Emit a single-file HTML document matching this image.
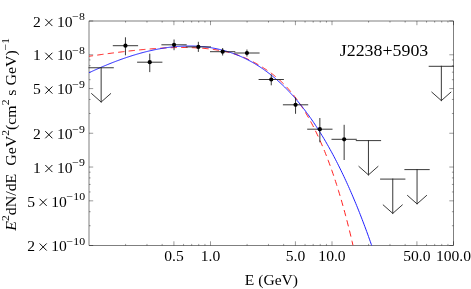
<!DOCTYPE html>
<html><head><meta charset="utf-8"><style>
html,body{margin:0;padding:0;background:#fff;}
body{width:471px;height:289px;overflow:hidden;font-family:"Liberation Serif",serif;}
svg{display:block}
.t{opacity:0.999}
.t text{font-family:"Liberation Serif",serif;white-space:pre}
</style></head><body>
<svg width="471" height="289" viewBox="0 0 471 289">
<rect width="471" height="289" fill="#fff"/>
<rect x="89.00" y="21.00" width="364.50" height="224.50" fill="none" stroke="#000" stroke-width="0.5"/>
<path d="M173.92 245.50v-4.2M173.92 21.00v4.2M210.50 245.50v-4.2M210.50 21.00v4.2M295.42 245.50v-4.2M295.42 21.00v4.2M332.00 245.50v-4.2M332.00 21.00v4.2M416.92 245.50v-4.2M416.92 21.00v4.2M453.50 245.50v-4.2M453.50 21.00v4.2M125.58 245.50v-1.6M125.58 21.00v1.6M146.97 245.50v-1.6M146.97 21.00v1.6M162.15 245.50v-1.6M162.15 21.00v1.6M183.55 245.50v-1.6M183.55 21.00v1.6M191.68 245.50v-1.6M191.68 21.00v1.6M198.73 245.50v-1.6M198.73 21.00v1.6M204.94 245.50v-1.6M204.94 21.00v1.6M247.08 245.50v-1.6M247.08 21.00v1.6M268.47 245.50v-1.6M268.47 21.00v1.6M283.65 245.50v-1.6M283.65 21.00v1.6M305.05 245.50v-1.6M305.05 21.00v1.6M313.18 245.50v-1.6M313.18 21.00v1.6M320.23 245.50v-1.6M320.23 21.00v1.6M326.44 245.50v-1.6M326.44 21.00v1.6M368.58 245.50v-1.6M368.58 21.00v1.6M389.97 245.50v-1.6M389.97 21.00v1.6M405.15 245.50v-1.6M405.15 21.00v1.6M426.55 245.50v-1.6M426.55 21.00v1.6M434.68 245.50v-1.6M434.68 21.00v1.6M441.73 245.50v-1.6M441.73 21.00v1.6M447.94 245.50v-1.6M447.94 21.00v1.6M89.00 21.00h4.2M453.50 21.00h-4.2M89.00 54.79h4.2M453.50 54.79h-4.2M89.00 88.58h4.2M453.50 88.58h-4.2M89.00 133.25h4.2M453.50 133.25h-4.2M89.00 167.04h4.2M453.50 167.04h-4.2M89.00 200.83h4.2M453.50 200.83h-4.2M89.00 245.50h4.2M453.50 245.50h-4.2M89.00 225.73h1.6M453.50 225.73h-1.6M89.00 211.71h1.6M453.50 211.71h-1.6M89.00 191.94h1.6M453.50 191.94h-1.6M89.00 184.43h1.6M453.50 184.43h-1.6M89.00 177.92h1.6M453.50 177.92h-1.6M89.00 172.18h1.6M453.50 172.18h-1.6M89.00 113.48h1.6M453.50 113.48h-1.6M89.00 99.46h1.6M453.50 99.46h-1.6M89.00 79.69h1.6M453.50 79.69h-1.6M89.00 72.18h1.6M453.50 72.18h-1.6M89.00 65.67h1.6M453.50 65.67h-1.6M89.00 59.93h1.6M453.50 59.93h-1.6" stroke="#000" stroke-width="0.4" fill="none"/>
<clipPath id="c"><rect x="89.00" y="21.00" width="364.50" height="224.50"/></clipPath>
<g clip-path="url(#c)" fill="none"><path d="M89.00 56.29L89.91 56.15L90.83 56.02L91.74 55.89L92.65 55.75L93.57 55.62L94.48 55.49L95.39 55.36L96.31 55.23L97.22 55.10L98.14 54.97L99.05 54.85L99.96 54.72L100.88 54.59L101.79 54.47L102.70 54.34L103.62 54.21L104.53 54.09L105.44 53.97L106.36 53.84L107.27 53.72L108.18 53.60L109.10 53.48L110.01 53.36L110.92 53.24L111.84 53.12L112.75 53.00L113.67 52.88L114.58 52.76L115.49 52.65L116.41 52.53L117.32 52.42L118.23 52.30L119.15 52.19L120.06 52.08L120.97 51.97L121.89 51.86L122.80 51.75L123.71 51.64L124.63 51.53L125.54 51.42L126.45 51.32L127.37 51.21L128.28 51.11L129.20 51.00L130.11 50.90L131.02 50.80L131.94 50.70L132.85 50.60L133.76 50.50L134.68 50.41L135.59 50.31L136.50 50.22L137.42 50.12L138.33 50.03L139.24 49.94L140.16 49.85L141.07 49.76L141.98 49.68L142.90 49.59L143.81 49.50L144.73 49.42L145.64 49.34L146.55 49.26L147.47 49.18L148.38 49.10L149.29 49.03L150.21 48.95L151.12 48.88L152.03 48.81L152.95 48.74L153.86 48.67L154.77 48.60L155.69 48.53L156.60 48.47L157.52 48.41L158.43 48.35L159.34 48.29L160.26 48.23L161.17 48.18L162.08 48.12L163.00 48.07L163.91 48.02L164.82 47.98L165.74 47.93L166.65 47.89L167.56 47.85L168.48 47.81L169.39 47.77L170.30 47.74L171.22 47.70L172.13 47.67L173.05 47.65L173.96 47.62L174.87 47.60L175.79 47.58L176.70 47.56L177.61 47.54L178.53 47.53L179.44 47.52L180.35 47.51L181.27 47.50L182.18 47.50L183.09 47.50L184.01 47.50L184.92 47.51L185.83 47.52L186.75 47.53L187.66 47.54L188.58 47.56L189.49 47.58L190.40 47.60L191.32 47.63L192.23 47.66L193.14 47.69L194.06 47.73L194.97 47.77L195.88 47.82L196.80 47.86L197.71 47.92L198.62 47.97L199.54 48.03L200.45 48.09L201.36 48.16L202.28 48.23L203.19 48.30L204.11 48.38L205.02 48.47L205.93 48.55L206.85 48.65L207.76 48.74L208.67 48.84L209.59 48.95L210.50 49.06L211.41 49.17L212.33 49.29L213.24 49.42L214.15 49.55L215.07 49.68L215.98 49.82L216.89 49.97L217.81 50.12L218.72 50.27L219.64 50.44L220.55 50.60L221.46 50.78L222.38 50.96L223.29 51.14L224.20 51.34L225.12 51.53L226.03 51.74L226.94 51.95L227.86 52.17L228.77 52.40L229.68 52.63L230.60 52.88L231.51 53.13L232.42 53.39L233.34 53.65L234.25 53.93L235.17 54.21L236.08 54.51L236.99 54.81L237.91 55.12L238.82 55.45L239.73 55.78L240.65 56.12L241.56 56.47L242.47 56.84L243.39 57.21L244.30 57.59L245.21 57.99L246.13 58.39L247.04 58.81L247.95 59.24L248.87 59.67L249.78 60.12L250.70 60.57L251.61 61.04L252.52 61.51L253.44 62.00L254.35 62.49L255.26 62.99L256.18 63.50L257.09 64.02L258.00 64.55L258.92 65.09L259.83 65.63L260.74 66.18L261.66 66.74L262.57 67.31L263.48 67.89L264.40 68.47L265.31 69.07L266.23 69.68L267.14 70.29L268.05 70.92L268.97 71.56L269.88 72.21L270.79 72.87L271.71 73.55L272.62 74.24L273.53 74.94L274.45 75.66L275.36 76.40L276.27 77.15L277.19 77.92L278.10 78.71L279.02 79.51L279.93 80.34L280.84 81.18L281.76 82.05L282.67 82.93L283.58 83.83L284.50 84.76L285.41 85.71L286.32 86.68L287.24 87.67L288.15 88.68L289.06 89.71L289.98 90.77L290.89 91.85L291.80 92.96L292.72 94.09L293.63 95.24L294.55 96.41L295.46 97.62L296.37 98.84L297.29 100.09L298.20 101.37L299.11 102.67L300.03 104.00L300.94 105.35L301.85 106.73L302.77 108.14L303.68 109.58L304.59 111.04L305.51 112.54L306.42 114.06L307.33 115.61L308.25 117.19L309.16 118.81L310.08 120.45L310.99 122.13L311.90 123.84L312.82 125.58L313.73 127.35L314.64 129.16L315.56 131.01L316.47 132.88L317.38 134.80L318.30 136.75L319.21 138.74L320.12 140.76L321.04 142.83L321.95 144.93L322.86 147.08L323.78 149.26L324.69 151.48L325.61 153.75L326.52 156.06L327.43 158.41L328.35 160.81L329.26 163.25L330.17 165.74L331.09 168.28L332.00 170.86L332.91 173.49L333.83 176.17L334.74 178.90L335.65 181.67L336.57 184.51L337.48 187.39L338.39 190.33L339.31 193.32L340.22 196.37L341.14 199.47L342.05 202.63L342.96 205.85L343.88 209.13L344.79 212.47L345.70 215.87L346.62 219.33L347.53 222.86L348.44 226.45L349.36 230.11L350.27 233.83L351.18 237.63L352.10 241.49L353.01 245.42" stroke="#ff2020" stroke-width="1" stroke-dasharray="6.3 4.25" stroke-dashoffset="2.2"/><path d="M89.00 72.76L89.91 72.33L90.83 71.91L91.74 71.49L92.65 71.06L93.57 70.65L94.48 70.23L95.39 69.82L96.31 69.41L97.22 69.00L98.14 68.60L99.05 68.19L99.96 67.79L100.88 67.40L101.79 67.00L102.70 66.61L103.62 66.23L104.53 65.84L105.44 65.46L106.36 65.08L107.27 64.70L108.18 64.33L109.10 63.96L110.01 63.59L110.92 63.23L111.84 62.86L112.75 62.51L113.67 62.15L114.58 61.80L115.49 61.45L116.41 61.10L117.32 60.76L118.23 60.42L119.15 60.08L120.06 59.75L120.97 59.42L121.89 59.09L122.80 58.77L123.71 58.45L124.63 58.13L125.54 57.82L126.45 57.51L127.37 57.20L128.28 56.90L129.20 56.60L130.11 56.30L131.02 56.01L131.94 55.72L132.85 55.44L133.76 55.15L134.68 54.88L135.59 54.60L136.50 54.33L137.42 54.06L138.33 53.80L139.24 53.54L140.16 53.28L141.07 53.03L141.98 52.78L142.90 52.54L143.81 52.30L144.73 52.06L145.64 51.83L146.55 51.60L147.47 51.38L148.38 51.16L149.29 50.94L150.21 50.73L151.12 50.52L152.03 50.32L152.95 50.12L153.86 49.92L154.77 49.73L155.69 49.55L156.60 49.37L157.52 49.19L158.43 49.01L159.34 48.85L160.26 48.68L161.17 48.52L162.08 48.37L163.00 48.21L163.91 48.07L164.82 47.93L165.74 47.79L166.65 47.66L167.56 47.53L168.48 47.41L169.39 47.29L170.30 47.18L171.22 47.07L172.13 46.97L173.05 46.87L173.96 46.78L174.87 46.69L175.79 46.61L176.70 46.53L177.61 46.46L178.53 46.39L179.44 46.33L180.35 46.27L181.27 46.22L182.18 46.17L183.09 46.13L184.01 46.10L184.92 46.07L185.83 46.04L186.75 46.02L187.66 46.01L188.58 46.00L189.49 46.00L190.40 46.00L191.32 46.01L192.23 46.03L193.14 46.05L194.06 46.08L194.97 46.11L195.88 46.15L196.80 46.20L197.71 46.25L198.62 46.31L199.54 46.37L200.45 46.44L201.36 46.52L202.28 46.60L203.19 46.69L204.11 46.78L205.02 46.88L205.93 46.99L206.85 47.11L207.76 47.23L208.67 47.36L209.59 47.49L210.50 47.63L211.41 47.78L212.33 47.94L213.24 48.10L214.15 48.27L215.07 48.44L215.98 48.63L216.89 48.82L217.81 49.01L218.72 49.22L219.64 49.43L220.55 49.65L221.46 49.88L222.38 50.11L223.29 50.35L224.20 50.60L225.12 50.86L226.03 51.12L226.94 51.39L227.86 51.67L228.77 51.96L229.68 52.26L230.60 52.56L231.51 52.87L232.42 53.19L233.34 53.52L234.25 53.85L235.17 54.20L236.08 54.55L236.99 54.91L237.91 55.28L238.82 55.66L239.73 56.04L240.65 56.44L241.56 56.84L242.47 57.25L243.39 57.67L244.30 58.10L245.21 58.54L246.13 58.99L247.04 59.45L247.95 59.92L248.87 60.39L249.78 60.88L250.70 61.37L251.61 61.87L252.52 62.39L253.44 62.91L254.35 63.44L255.26 63.98L256.18 64.53L257.09 65.10L258.00 65.67L258.92 66.25L259.83 66.84L260.74 67.44L261.66 68.05L262.57 68.68L263.48 69.31L264.40 69.95L265.31 70.61L266.23 71.27L267.14 71.95L268.05 72.63L268.97 73.33L269.88 74.04L270.79 74.75L271.71 75.48L272.62 76.23L273.53 76.98L274.45 77.74L275.36 78.52L276.27 79.30L277.19 80.10L278.10 80.91L279.02 81.73L279.93 82.57L280.84 83.41L281.76 84.27L282.67 85.14L283.58 86.02L284.50 86.91L285.41 87.82L286.32 88.74L287.24 89.67L288.15 90.62L289.06 91.57L289.98 92.54L290.89 93.53L291.80 94.52L292.72 95.53L293.63 96.55L294.55 97.59L295.46 98.64L296.37 99.70L297.29 100.78L298.20 101.87L299.11 102.97L300.03 104.09L300.94 105.22L301.85 106.37L302.77 107.53L303.68 108.71L304.59 109.90L305.51 111.10L306.42 112.32L307.33 113.55L308.25 114.80L309.16 116.07L310.08 117.35L310.99 118.64L311.90 119.95L312.82 121.28L313.73 122.62L314.64 123.97L315.56 125.35L316.47 126.74L317.38 128.14L318.30 129.56L319.21 131.00L320.12 132.45L321.04 133.92L321.95 135.41L322.86 136.91L323.78 138.43L324.69 139.97L325.61 141.53L326.52 143.10L327.43 144.69L328.35 146.30L329.26 147.92L330.17 149.57L331.09 151.23L332.00 152.91L332.91 154.60L333.83 156.32L334.74 158.05L335.65 159.81L336.57 161.58L337.48 163.37L338.39 165.18L339.31 167.01L340.22 168.86L341.14 170.73L342.05 172.61L342.96 174.52L343.88 176.45L344.79 178.40L345.70 180.37L346.62 182.35L347.53 184.36L348.44 186.39L349.36 188.44L350.27 190.52L351.18 192.61L352.10 194.72L353.01 196.86L353.92 199.02L354.84 201.20L355.75 203.40L356.67 205.62L357.58 207.87L358.49 210.13L359.41 212.43L360.32 214.74L361.23 217.08L362.15 219.44L363.06 221.82L363.97 224.23L364.89 226.66L365.80 229.11L366.71 231.59L367.63 234.09L368.54 236.62L369.45 239.17L370.37 241.75L371.28 244.35L372.20 246.98" stroke="#2020ff" stroke-width="1"/></g>
<path d="M113.30 45.70h24.30M125.45 37.80V54.80M137.60 62.20h24.30M149.75 54.20V71.60M161.90 44.80h24.30M174.05 40.00V49.70M186.20 46.90h24.30M198.35 42.30V51.40M210.50 51.70h24.30M222.65 48.50V55.00M234.80 53.00h24.30M246.95 50.00V56.00M259.10 79.50h24.30M271.25 75.00V84.80M283.40 104.80h24.30M295.55 98.00V113.30M307.70 129.20h24.30M319.85 118.50V141.80M332.00 139.30h24.30M344.15 125.30V159.50M89.00 67.75h24.30M101.15 67.75v34.3M91.65 93.65L101.15 102.05L110.65 93.65M356.30 140.60h24.30M368.45 140.60v34.3M358.95 166.50L368.45 174.90L377.95 166.50M380.60 179.10h24.30M392.75 179.10v34.3M383.25 205.00L392.75 213.40L402.25 205.00M404.90 169.60h24.30M417.05 169.60v34.3M407.55 195.50L417.05 203.90L426.55 195.50M429.20 66.30h24.30M441.35 66.30v34.3M431.85 92.20L441.35 100.60L450.85 92.20" stroke="#222" stroke-width="0.9" fill="none" stroke-linecap="square"/>
<g fill="#000"><circle cx="125.45" cy="45.70" r="2.1"/><circle cx="149.75" cy="62.20" r="2.1"/><circle cx="174.05" cy="44.80" r="2.1"/><circle cx="198.35" cy="46.90" r="2.1"/><circle cx="222.65" cy="51.70" r="2.1"/><circle cx="246.95" cy="53.00" r="2.1"/><circle cx="271.25" cy="79.50" r="2.1"/><circle cx="295.55" cy="104.80" r="2.1"/><circle cx="319.85" cy="129.20" r="2.1"/><circle cx="344.15" cy="139.30" r="2.1"/></g>
<path d="M45.30 18.95L52.40 26.05M45.30 26.05L52.40 18.95M45.30 52.74L52.40 59.84M45.30 59.84L52.40 52.74M45.30 86.53L52.40 93.63M45.30 93.63L52.40 86.53M45.30 131.20L52.40 138.30M45.30 138.30L52.40 131.20M45.30 164.99L52.40 172.09M45.30 172.09L52.40 164.99M39.60 198.78L46.70 205.88M39.60 205.88L46.70 198.78M39.60 243.45L46.70 250.55M39.60 250.55L46.70 243.45" stroke="#000" stroke-width="0.95" fill="none"/>
<g class="t" fill="#000"><text transform="translate(40.80 26.70) scale(1.07 1)" text-anchor="end" font-size="14.6">2</text><text transform="translate(57.00 26.70) scale(1.07 1)" text-anchor="start" font-size="14.6">10</text><text transform="translate(72.30 20.30) scale(1.12 1)" text-anchor="start" font-size="10.6">−8</text><text transform="translate(40.80 60.49) scale(1.07 1)" text-anchor="end" font-size="14.6">1</text><text transform="translate(57.00 60.49) scale(1.07 1)" text-anchor="start" font-size="14.6">10</text><text transform="translate(72.30 54.09) scale(1.12 1)" text-anchor="start" font-size="10.6">−8</text><text transform="translate(40.80 94.28) scale(1.07 1)" text-anchor="end" font-size="14.6">5</text><text transform="translate(57.00 94.28) scale(1.07 1)" text-anchor="start" font-size="14.6">10</text><text transform="translate(72.30 87.88) scale(1.12 1)" text-anchor="start" font-size="10.6">−9</text><text transform="translate(40.80 138.95) scale(1.07 1)" text-anchor="end" font-size="14.6">2</text><text transform="translate(57.00 138.95) scale(1.07 1)" text-anchor="start" font-size="14.6">10</text><text transform="translate(72.30 132.55) scale(1.12 1)" text-anchor="start" font-size="10.6">−9</text><text transform="translate(40.80 172.74) scale(1.07 1)" text-anchor="end" font-size="14.6">1</text><text transform="translate(57.00 172.74) scale(1.07 1)" text-anchor="start" font-size="14.6">10</text><text transform="translate(72.30 166.34) scale(1.12 1)" text-anchor="start" font-size="10.6">−9</text><text transform="translate(35.10 206.53) scale(1.07 1)" text-anchor="end" font-size="14.6">5</text><text transform="translate(51.30 206.53) scale(1.07 1)" text-anchor="start" font-size="14.6">10</text><text transform="translate(66.60 200.13) scale(1.12 1)" text-anchor="start" font-size="10.6">−10</text><text transform="translate(35.10 251.20) scale(1.07 1)" text-anchor="end" font-size="14.6">2</text><text transform="translate(51.30 251.20) scale(1.07 1)" text-anchor="start" font-size="14.6">10</text><text transform="translate(66.60 244.80) scale(1.12 1)" text-anchor="start" font-size="10.6">−10</text><text transform="translate(173.92 261.10) scale(1.07 1)" text-anchor="middle" font-size="14.6">0.5</text><text transform="translate(210.50 261.10) scale(1.07 1)" text-anchor="middle" font-size="14.6">1.0</text><text transform="translate(295.42 261.10) scale(1.07 1)" text-anchor="middle" font-size="14.6">5.0</text><text transform="translate(332.00 261.10) scale(1.07 1)" text-anchor="middle" font-size="14.6">10.0</text><text transform="translate(416.92 261.10) scale(1.07 1)" text-anchor="middle" font-size="14.6">50.0</text><text transform="translate(453.50 261.10) scale(1.07 1)" text-anchor="middle" font-size="14.6">100.0</text><text transform="translate(271.40 284.80) scale(1.07 1)" text-anchor="middle" font-size="14.6">E (GeV)</text><text transform="translate(339.80 55.60) scale(1.07 1)" text-anchor="start" font-size="16.7">J2238+5903</text><text transform="translate(15.80 134.30) rotate(-90) scale(1.088 1)" text-anchor="middle" font-size="14.6"><tspan font-style="italic">E</tspan><tspan dy="-6.4" font-size="10.6">2</tspan><tspan dy="6.4" font-size="1">​</tspan>dN/dE  GeV<tspan dy="-6.4" font-size="10.6">2</tspan><tspan dy="6.4" font-size="1">​</tspan>(cm<tspan dy="-6.4" font-size="10.6">2</tspan><tspan dy="6.4" font-size="1">​</tspan> s GeV)<tspan dy="-6.4" font-size="10.6">−1</tspan><tspan dy="6.4" font-size="1">​</tspan></text></g>
</svg>
</body></html>
